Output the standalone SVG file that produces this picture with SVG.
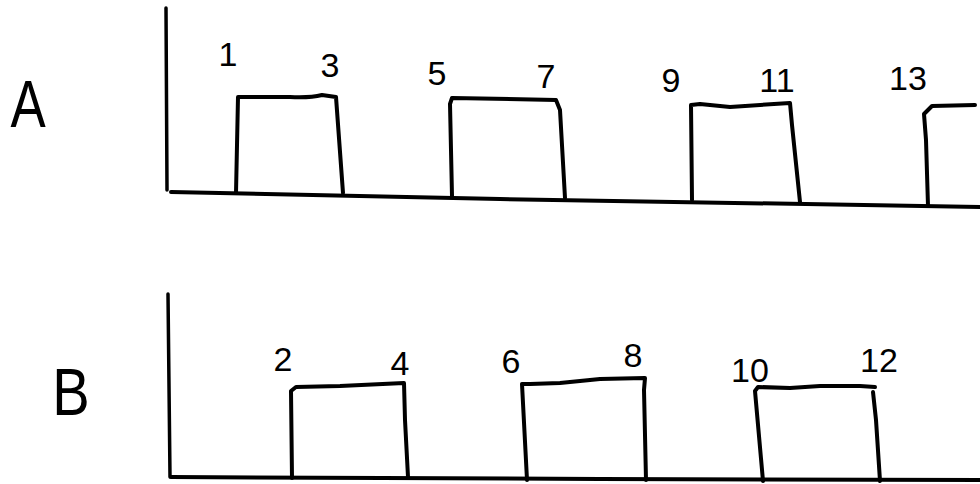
<svg xmlns="http://www.w3.org/2000/svg" width="980" height="484" viewBox="0 0 980 484">
<style>
.ln{fill:none;stroke:#000;stroke-width:4;stroke-linecap:round;stroke-linejoin:round}
.ax{fill:none;stroke:#000;stroke-width:3.5;stroke-linecap:round}
.lbl{font-family:"Liberation Sans",Arial,sans-serif;font-size:34px;fill:#000;text-anchor:middle}
.big{font-family:"Liberation Sans",Arial,sans-serif;font-size:66px;fill:#000;text-anchor:middle}
</style>
<rect width="980" height="484" fill="#fff"/>
<g id="signal-A">
  <text class="big" x="0" y="0" font-size="90" transform="translate(28,127) scale(0.8,1)">A</text>
  <path class="ax" d="M166,8 L167,190"/>
  <path class="ln" d="M171,192 L500,199 L980,207"/>
  <path class="ln" d="M236,193 L238,97 L290,97 Q310,98 322,95 L336,97 L343,193"/>
  <path class="ln" d="M452,196 L450,104 L452,98 L556,100 L560,110 L565,198"/>
  <path class="ln" d="M692,200 L691,105 L700,104 L730,107 L790,103 L792,125 L800,202"/>
  <path class="ln" d="M928,206 L926,140 L924,114 L932,106 L975,105"/>
  <text class="lbl" x="228" y="66" font-size="26">1</text>
  <text class="lbl" x="330" y="77">3</text>
  <text class="lbl" x="437" y="85">5</text>
  <text class="lbl" x="546" y="88">7</text>
  <text class="lbl" x="671" y="92">9</text>
  <text class="lbl" x="777" y="92">11</text>
  <text class="lbl" x="908" y="90">13</text>
</g>
<g id="signal-B">
  <text class="big" x="0" y="0" transform="translate(71,415) scale(0.85,1)">B</text>
  <path class="ax" d="M168,294 L170,477"/>
  <path class="ln" d="M171,477 L600,479 L980,480"/>
  <path class="ln" d="M292,478 L291,391 L296,387 L340,386 L404,383 L405,420 L408,477"/>
  <path class="ln" d="M527,480 L522,384 L530,384 L560,383 L600,379 L645,378 L644,390 L646,480"/>
  <path class="ln" d="M763,481 L755,391 L758,387 L790,388 L820,386 L860,386 L875,387"/>
  <path class="ln" d="M873,392 L876,420 L880,481"/>
  <text class="lbl" x="283" y="371" font-size="22">2</text>
  <text class="lbl" x="400" y="375">4</text>
  <text class="lbl" x="511" y="373">6</text>
  <text class="lbl" x="633" y="367">8</text>
  <text class="lbl" x="750" y="382">10</text>
  <text class="lbl" x="879" y="372">12</text>
</g>
</svg>
